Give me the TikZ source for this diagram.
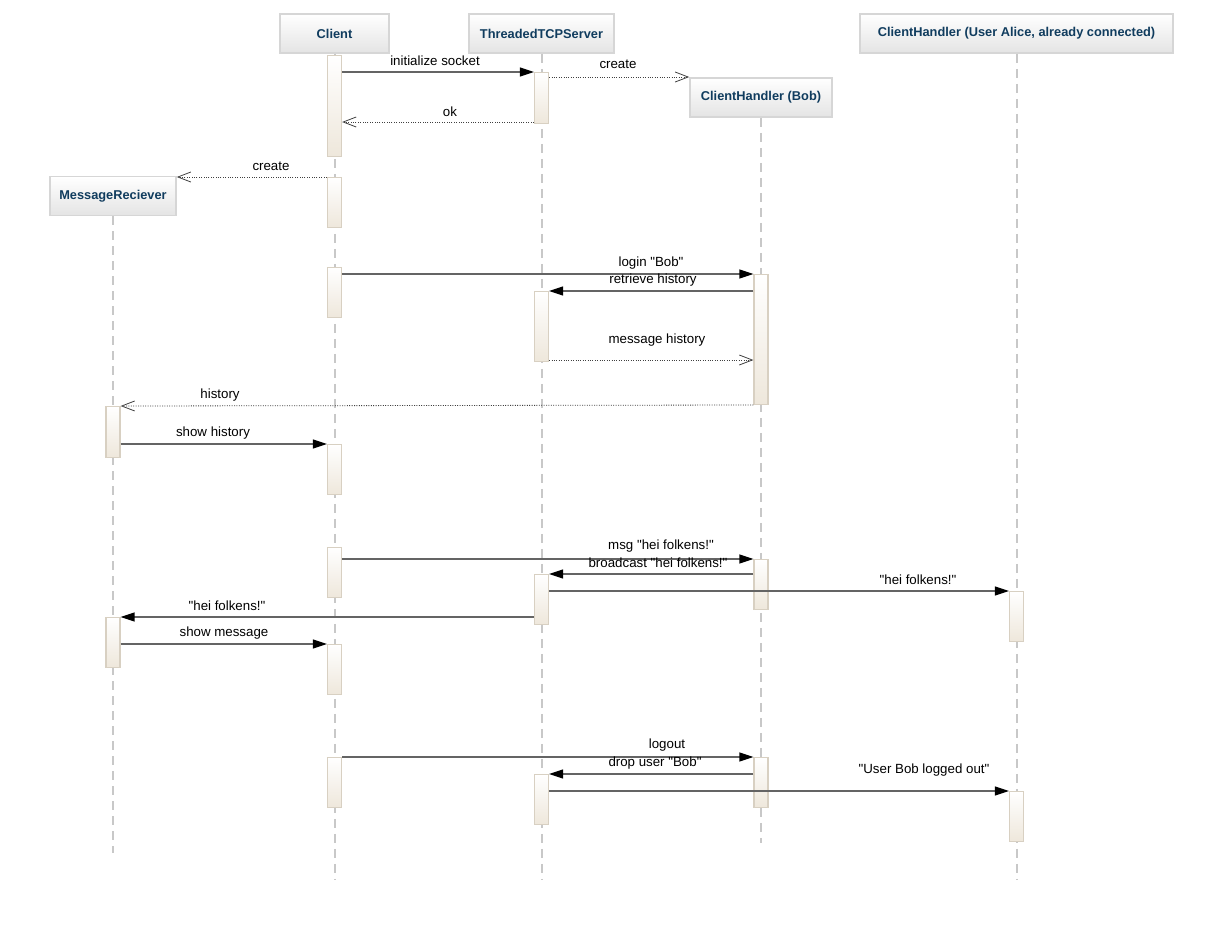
\documentclass[tikz,border=0pt]{standalone}
\usepackage{fontspec}
\setmainfont{Liberation Sans}
\usetikzlibrary{arrows.meta}
\definecolor{hdrtext}{RGB}{16,60,94}
\definecolor{hdrline}{RGB}{214,214,214}
\definecolor{hdrbot}{RGB}{228,228,228}
\definecolor{actline}{RGB}{216,208,194}
\definecolor{actbot}{RGB}{238,231,219}
\definecolor{lifecol}{RGB}{200,200,200}
\definecolor{callcol}{RGB}{100,100,100}
% straight double quote, not turned into a curly one
\newcommand{\dq}{\textquotedbl}
\begin{document}
\begin{tikzpicture}[x=1pt,y=-1pt,
  hdr/.style={draw=hdrline, line width=1.5pt, top color=white, bottom color=hdrbot,
    font=\fontsize{12.8}{14}\selectfont\bfseries, text=hdrtext, inner sep=0pt, minimum height=39pt},
  act/.style={draw=actline, line width=1.2pt, top color=white, bottom color=actbot,
    minimum width=14pt, inner sep=0pt, anchor=north},
  lifeline/.style={draw=lifecol, line width=2pt, dash pattern=on 9pt off 6pt},
  call/.style={draw=callcol, line width=1.3pt, -{Triangle[length=14pt,width=9pt,color=black]}},
  ret/.style={draw=black!75, line width=0.8pt, dash pattern=on 1pt off 1.4pt,
    -{Straight Barb[length=13pt,width=10pt,line width=0.8pt]}},
  lbl/.style={font=\fontsize{13.3}{15}\selectfont, inner sep=0pt, yshift=-1.2pt}]
\useasboundingbox[fill=white] (0,0) rectangle (1224,930);

% participants
\node[hdr, minimum width=109pt] (client) at (334.5,33.5) {Client};
\node[hdr, minimum width=145pt] (server) at (541.5,33.5) {ThreadedTCPServer};
\node[hdr, minimum width=142pt] (bob) at (761,97.5) {ClientHandler (Bob)};
\node[hdr, minimum width=313pt] (alice) at (1016.5,33.5) {ClientHandler (User Alice, already connected)};
\node[hdr, minimum width=126pt] (recv) at (113,196) {MessageReciever};

% lifeline ends
\coordinate (clientEnd) at (334.5,880);
\coordinate (serverEnd) at (541.5,880);
\coordinate (bobEnd) at (761,843);
\coordinate (aliceEnd) at (1016.5,880);
\coordinate (recvEnd) at (113,853);

\draw[lifeline] (client.south) -- (clientEnd);
\draw[lifeline] (server.south) -- (serverEnd);
\draw[lifeline] (bob.south) -- (bobEnd);
\draw[lifeline] (alice.south) -- (aliceEnd);
\draw[lifeline] (recv.south) -- (recvEnd);

% activations: Client
\node[act, minimum height=101pt] (c1) at (334.5,55) {};
\node[act, minimum height=50pt] (c2) at (334.5,177) {};
\node[act, minimum height=50pt] (c3) at (334.5,267) {};
\node[act, minimum height=50pt] (c4) at (334.5,444) {};
\node[act, minimum height=50pt] (c5) at (334.5,547) {};
\node[act, minimum height=50pt] (c6) at (334.5,644) {};
\node[act, minimum height=50pt] (c7) at (334.5,757) {};
% activations: ThreadedTCPServer
\node[act, minimum height=51pt] (s1) at (541.5,72) {};
\node[act, minimum height=70pt] (s2) at (541.5,291) {};
\node[act, minimum height=50pt] (s3) at (541.5,574) {};
\node[act, minimum height=50pt] (s4) at (541.5,774) {};
% activations: ClientHandler (Bob)
\node[act, minimum height=130pt] (b1) at (761,274) {};
\node[act, minimum height=50pt] (b2) at (761,559) {};
\node[act, minimum height=50pt] (b3) at (761,757) {};
% activations: ClientHandler (Alice)
\node[act, minimum height=50pt] (a1) at (1016.5,591) {};
\node[act, minimum height=50pt] (a2) at (1016.5,791) {};
% activations: MessageReciever
\node[act, minimum height=51pt] (r1) at (113,406) {};
\node[act, minimum height=50pt] (r2) at (113,617) {};

% connection setup
\draw[call] (c1.east |- 0,72) -- (s1.west |- 0,72);
\node[lbl] (m1) at (435,60) {initialize socket};
\draw[ret] (s1.east |- 0,77) -- (bob.west |- 0,77);
\node[lbl] (m2) at (618,63) {create};
\draw[ret] (s1.west |- 0,122) -- (c1.east |- 0,122);
\node[lbl] (m3) at (450,111) {ok};
\draw[ret] (c2.west |- 0,177) -- (recv.east |- 0,177);
\node[lbl] (m4) at (271,165) {create};

% login
\draw[call] (c3.east |- 0,274) -- (b1.west |- 0,274);
\node[lbl] (m5) at (651,262) {login \dq Bob\dq};
\draw[call] (b1.west |- 0,291) -- (s2.east |- 0,291);
\node[lbl] (m6) at (653,279) {retrieve history};
\draw[ret] (s2.east |- 0,360) -- (b1.west |- 0,360);
\node[lbl] (m7) at (657,339) {message history};
\draw[ret] (b1.west |- 0,405) -- (r1.east |- 0,406);
\node[lbl] (m8) at (220,394) {history};
\draw[call] (r1.east |- 0,444) -- (c4.west |- 0,444);
\node[lbl] (m9) at (213,432) {show history};

% message
\draw[call] (c5.east |- 0,559) -- (b2.west |- 0,559);
\node[lbl] (m10) at (661,545) {msg \dq hei folkens!\dq};
\draw[call] (b2.west |- 0,574) -- (s3.east |- 0,574);
\node[lbl] (m11) at (658,562) {broadcast \dq hei folkens!\dq};
\draw[call] (s3.east |- 0,591) -- (a1.west |- 0,591);
\node[lbl] (m12) at (918,579) {\dq hei folkens!\dq};
\draw[call] (s3.west |- 0,617) -- (r2.east |- 0,617);
\node[lbl] (m13) at (227,605) {\dq hei folkens!\dq};
\draw[call] (r2.east |- 0,644) -- (c6.west |- 0,644);
\node[lbl] (m14) at (224,632) {show message};

% logout
\draw[call] (c7.east |- 0,757) -- (b3.west |- 0,757);
\node[lbl] (m15) at (667,744) {logout};
\draw[call] (b3.west |- 0,774) -- (s4.east |- 0,774);
\node[lbl] (m16) at (655,762) {drop user \dq Bob\dq};
\draw[call] (s4.east |- 0,791) -- (a2.west |- 0,791);
\node[lbl] (m17) at (924,769) {\dq User Bob logged out\dq};
\end{tikzpicture}
\end{document}
